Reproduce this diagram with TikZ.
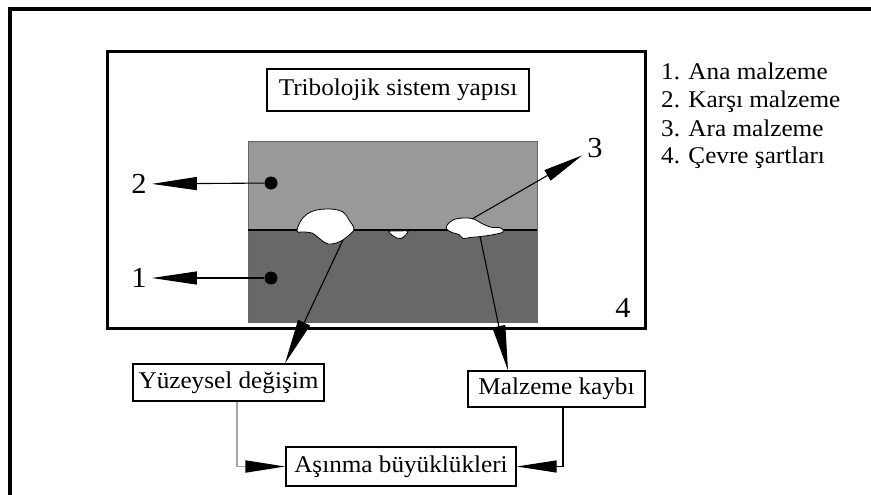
\documentclass[tikz,border=0pt]{standalone}
\usepackage{fontspec}
\setmainfont{Liberation Serif}[FakeStretch=1.05]
\usetikzlibrary{arrows.meta}

\definecolor{upperbody}{RGB}{153,153,153}
\definecolor{lowerbody}{RGB}{104,104,104}
\definecolor{feedline}{RGB}{165,165,165}

\tikzset{
  txt/.style={font=\fontsize{24}{28}\selectfont, inner sep=0pt},
  num/.style={font=\fontsize{29}{33}\selectfont, inner sep=5pt},
  textbox/.style={draw, line width=1.3pt, font=\fontsize{24}{28}\selectfont,
                  inner sep=0pt, anchor=center},
  longtip/.style={-{Triangle[length=45pt,width=13pt,black]}, line width=1.1pt},
  shorttip/.style={-{Triangle[length=40pt,width=12pt,black]}, line width=1.1pt},
  marker/.style={circle, fill=black, inner sep=0pt, minimum size=13pt},
  blob/.style={fill=white, draw=black, line width=0.8pt},
}

\begin{document}
\begin{tikzpicture}[x=1pt,y=-1pt]
\useasboundingbox (0,0) rectangle (871,495);

% outer frame (top and left edges)
\draw[line width=4pt] (10,495) -- (10,9) -- (871,9);

% system boundary
\draw[line width=3pt] (107,52) rectangle (645,328);

% title box
\node[textbox, minimum width=262pt, minimum height=42pt] (trib) at (398,90) {Tribolojik sistem yapısı};

% the two bodies
\fill[upperbody] (248,141) rectangle (537,230);
\fill[lowerbody] (248,230) rectangle (537,322);
\draw[line width=0.8pt, black!60] (248,141) rectangle (537,322);
\draw[line width=2.6pt] (248,230) -- (537,230);

% interfacial particles
\draw[blob] plot[smooth cycle, tension=0.6] coordinates {
  (297,231) (302,219) (313,211) (330,209) (343,212) (349,220) (354,229)
  (348,236) (339,242) (328,244) (320,239) (312,233) (303,232)};
\draw[blob] plot[smooth cycle, tension=0.6] coordinates {
  (389,231.5) (399,231) (408,231.5) (401,238.5) (394,236.5)};
\draw[blob] plot[smooth cycle, tension=0.6] coordinates {
  (446,228) (450,222) (458,218.5) (472,218.5) (481,223) (490,227) (501,228)
  (503,232) (494,234.5) (481,236.5) (470,237.5) (463,238.5) (459,234.5) (452,232.5)};

% attachment points on the particles
\coordinate (p1) at (343,240);
\coordinate (p2top) at (472,219);
\coordinate (p2bot) at (480,236);

% body markers and labels
\node[marker] (d2) at (271,183) {};
\node[marker] (d1) at (271,278) {};
\node[num] (l2) at (139,184) {2};
\node[num] (l1) at (139,278) {1};
\node[num] (l3) at (595,148) {3};
\node[num] (l4) at (623,308) {4};

\draw[longtip] (d2) -- (l2);
\draw[longtip] (d1) -- (l1);
\draw[shorttip] (p2top) -- (l3);

% result boxes
\node[textbox, minimum width=191pt, minimum height=37pt] (yuz) at (228.5,382.5) {Yüzeysel değişim};
\node[textbox, minimum width=177pt, minimum height=36pt] (malz) at (556.5,389) {Malzeme kaybı};
\node[textbox, minimum width=230pt, minimum height=39pt] (asin) at (401,466.5) {Aşınma büyüklükleri};

\draw[longtip] (p1) -- ([xshift=56.5pt]yuz.north);
\draw[longtip] (p2bot) -- ([xshift=-48.5pt]malz.north);

\draw[shorttip, draw=feedline, line width=1.8pt] ([xshift=8.5pt]yuz.south) |- (asin.west);
\draw[shorttip] ([xshift=6.5pt]malz.south) |- (asin.east);

% legend
\node[txt, anchor=base west] (k1) at (661,80) {1. Ana malzeme};
\node[txt, anchor=base west] (k2) at (661,108) {2. Karşı malzeme};
\node[txt, anchor=base west] (k3) at (661,136) {3. Ara malzeme};
\node[txt, anchor=base west] (k4) at (661,164) {4. Çevre şartları};
\end{tikzpicture}
\end{document}
